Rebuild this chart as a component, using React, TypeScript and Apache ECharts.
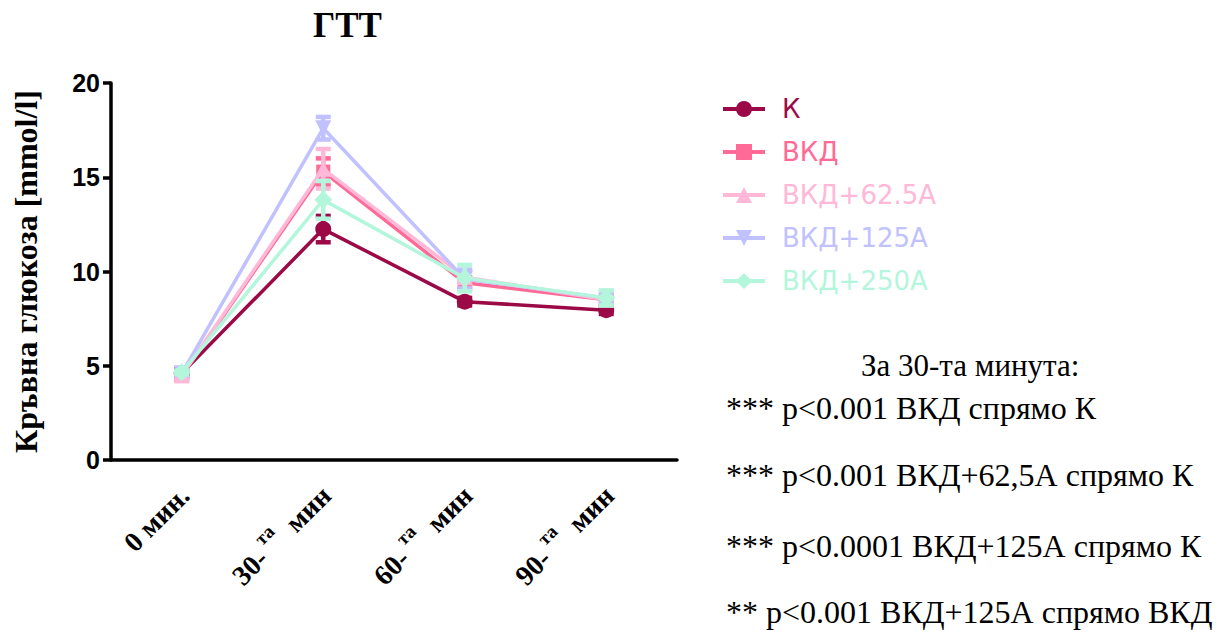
import React, { useEffect, useRef } from "react";
import * as echarts from "echarts";

const categories = ["0 мин.", "30-та мин", "60-та мин", "90-та мин"];
const seriesNames = ["К", "ВКД", "ВКД+62.5А", "ВКД+125А", "ВКД+250А"];
const colors = ["#9B0A47", "#FF6A96", "#FFB8D8", "#C1C1FF", "#B4F6DC"];
const symbols = ["circle", "rect", "triangle", "triangle", "diamond"];
const symbolRotates = [0, 0, 0, 180, 0];
const symbolSizes = [16, 14, 16, 16, 18];

const valuesK = [4.6, 12.25, 8.4, 7.95];
const valuesVKD = [4.45, 15.3, 9.4, 8.5];
const values625 = [4.5, 15.45, 9.7, 8.5];
const values125 = [4.6, 17.6, 9.6, 8.6];
const values250 = [4.65, 13.8, 9.65, 8.6];
const allValues = [valuesK, valuesVKD, values625, values125, values250];

const errK = [0.2, 0.7, 0.2, 0.2];
const errVKD = [0.2, 0.7, 0.3, 0.2];
const err625 = [0.2, 1.05, 0.3, 0.2];
const err125 = [0.1, 0.6, 0.5, 0.2];
const err250 = [0.1, 1.0, 0.7, 0.4];
const allErrors = [errK, errVKD, err625, err125, err250];

const yTicks = { min: 0, max: 20, interval: 5 };

const annotationHeader = "За 30-та минута:";
const annotationLines = [
  "*** p<0.001 ВКД спрямо К",
  "*** p<0.001 ВКД+62,5А спрямо К",
  "*** p<0.0001 ВКД+125А спрямо К",
  "** p<0.001 ВКД+125А спрямо ВКД",
];

export default function App() {
  const ref = useRef<HTMLDivElement>(null);
  useEffect(() => {
    if (!ref.current) return;
    const chart = echarts.init(ref.current, undefined, { renderer: "svg" });
    const series: any[] = [];
    seriesNames.forEach((name, i) => {
      const color = colors[i];
      series.push({
        name: name + "_err",
        type: "custom",
        data: allValues[i].map((v, j) => [j, v - allErrors[i][j], v + allErrors[i][j]]),
        encode: { x: 0, y: [1, 2] },
        z: 2 + i,
        renderItem: (params: any, api: any) => {
          const x = api.value(0);
          const lo = api.coord([x, api.value(1)]);
          const hi = api.coord([x, api.value(2)]);
          const hw = 7.5;
          const st = { stroke: color, lineWidth: 4.5 };
          return {
            type: "group",
            children: [
              { type: "line", shape: { x1: lo[0], y1: lo[1], x2: hi[0], y2: hi[1] }, style: st },
              { type: "line", shape: { x1: lo[0] - hw, y1: lo[1], x2: lo[0] + hw, y2: lo[1] }, style: st },
              { type: "line", shape: { x1: hi[0] - hw, y1: hi[1], x2: hi[0] + hw, y2: hi[1] }, style: st },
            ],
          };
        },
      });
      series.push({
        name,
        type: "line",
        data: allValues[i],
        z: 2 + i,
        symbol: symbols[i],
        symbolSize: symbolSizes[i],
        symbolRotate: symbolRotates[i],
        lineStyle: { color, width: 3.5 },
        itemStyle: { color, opacity: 1 },
      });
    });

    chart.setOption({
      animation: false,
      title: {
        text: "ГТТ",
        left: 313,
        top: 8,
        padding: 0,
        textStyle: { fontFamily: "Liberation Serif", fontWeight: "bold", fontSize: 35, color: "#000" },
      },
      legend: {
        orient: "vertical",
        left: 716,
        top: 91,
        itemWidth: 42,
        itemHeight: 20,
        itemGap: 17,
        data: seriesNames.map((n, i) => ({
          name: n,
          textStyle: { color: colors[i] },
          itemStyle: { color: colors[i] },
          lineStyle: { color: colors[i], width: 4 },
        })),
        textStyle: { fontFamily: "DejaVu Sans", fontSize: 26, lineHeight: 26, padding: [0, 0, 0, 12] },
      },
      grid: { left: 111, top: 83, width: 566, height: 377, containLabel: false },
      xAxis: {
        type: "category",
        data: categories,
        boundaryGap: true,
        axisLine: { lineStyle: { color: "#000", width: 3.5 } },
        axisTick: { alignWithLabel: true, length: 8, lineStyle: { color: "#000", width: 3.5 } },
        axisLabel: {
          rotate: 45,
          margin: 28,
          interval: 0,
          formatter: (v: string) => {
            const m = v.match(/^(\d+-)та (.*)$/);
            if (m) return "{n|" + m[1] + "}{s| та}{n|  " + m[2] + "}";
            return "{n|" + v + "}";
          },
          rich: {
            n: { fontFamily: "Liberation Serif", fontWeight: "bold", fontSize: 28, lineHeight: 36, color: "#000", verticalAlign: "bottom" },
            s: { fontFamily: "Liberation Serif", fontWeight: "bold", fontSize: 19, lineHeight: 19, color: "#000", verticalAlign: "top" },
          },
        },
      },
      yAxis: {
        type: "value",
        min: yTicks.min,
        max: yTicks.max,
        interval: yTicks.interval,
        name: "Кръвна глюкоза [mmol/l]",
        nameLocation: "middle",
        nameRotate: 90,
        nameGap: 69,
        nameTextStyle: { fontFamily: "Liberation Serif", fontWeight: "bold", fontSize: 32, color: "#000" },
        splitLine: { show: false },
        axisLine: { show: true, lineStyle: { color: "#000", width: 3.5 } },
        axisTick: { show: true, length: 8, lineStyle: { color: "#000", width: 3.5 } },
        axisLabel: { fontFamily: "Liberation Sans", fontWeight: "bold", fontSize: 25, color: "#000", margin: 11 },
      },
      graphic: [
        {
          type: "text",
          left: 861,
          top: 350,
          style: { text: annotationHeader, font: "31px 'Liberation Serif'", fill: "#000" },
        },
        ...annotationLines.map((t, i) => ({
          type: "text",
          left: 726,
          top: [392, 459, 530, 596][i],
          style: { text: t, font: "32px 'Liberation Serif'", fill: "#000" },
        })),
      ],
      series,
    });
    return () => chart.dispose();
  }, []);
  return <div ref={ref} style={{ width: 1227, height: 637, position: "absolute", left: 0, top: 0 }} />;
}
